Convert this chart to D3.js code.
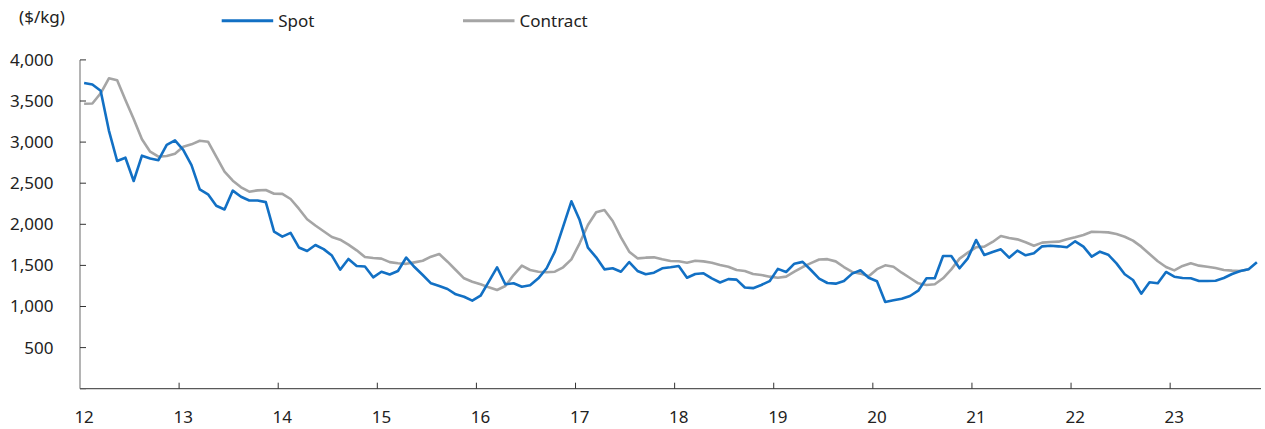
<!DOCTYPE html>
<html>
<head>
<meta charset="utf-8">
<script src="https://cdn.jsdelivr.net/npm/d3@7"></script>
<style>
  html, body { margin: 0; padding: 0; background: #fff; }
  svg { display: block; }
  text { font-family: "Noto Sans", "DejaVu Sans", sans-serif; fill: #222; }
</style>
</head>
<body>
<svg id="chart" width="1265" height="429"></svg>
<script>
// Monthly data, Jan 2012 .. Nov 2023
const startYear = 2012;
const yearLabels = ["12","13","14","15","16","17","18","19","20","21","22","23"];
const yTicks = [0, 500, 1000, 1500, 2000, 2500, 3000, 3500, 4000];
const seriesNames = ["Spot", "Contract"];

const spot = [
  3720,3700,3625,3140,2770,2810,2527,2835,2800,2780,2965,3020,
  2905,2720,2425,2365,2225,2180,2410,2335,2290,2290,2270,1910,
  1850,1895,1718,1675,1748,1698,1620,1448,1578,1493,1486,1355,
  1423,1390,1432,1596,1480,1383,1282,1249,1213,1148,1119,1071,
  1131,1302,1477,1270,1282,1241,1258,1343,1465,1667,1971,2280,
  2052,1716,1598,1452,1465,1423,1541,1432,1392,1411,1465,1477,
  1493,1350,1395,1404,1343,1292,1333,1327,1231,1223,1262,1308,
  1458,1420,1521,1543,1444,1340,1286,1278,1310,1400,1440,1349,
  1308,1055,1075,1095,1128,1192,1343,1343,1614,1614,1465,1586,
  1809,1626,1663,1696,1594,1679,1623,1647,1732,1740,1732,1720,
  1793,1728,1606,1667,1630,1525,1392,1322,1156,1294,1282,1420,
  1363,1347,1343,1310,1310,1314,1347,1395,1432,1452,1538
];

const contract = [
  3467,3470,3594,3776,3752,3512,3281,3034,2883,2822,2831,2859,
  2944,2973,3017,3005,2822,2640,2530,2450,2397,2413,2417,2372,
  2370,2308,2190,2062,1985,1916,1846,1813,1752,1683,1602,1590,
  1582,1540,1527,1519,1537,1557,1606,1639,1545,1444,1343,1302,
  1270,1233,1201,1249,1383,1497,1444,1423,1416,1423,1477,1574,
  1769,1991,2146,2174,2040,1842,1667,1586,1594,1598,1574,1553,
  1551,1533,1557,1549,1533,1505,1484,1444,1432,1395,1383,1363,
  1350,1363,1423,1480,1527,1572,1576,1549,1480,1420,1400,1367,
  1454,1501,1484,1411,1347,1282,1262,1270,1343,1452,1582,1655,
  1720,1728,1785,1858,1833,1817,1781,1740,1777,1785,1789,1817,
  1842,1870,1910,1906,1902,1882,1849,1801,1728,1639,1550,1481,
  1440,1493,1525,1497,1484,1468,1444,1436,1432,1452
];

const colors = { Spot: "#1270C4", Contract: "#A5A5A5" };
const fs = 17;

const svg = d3.select("#chart");
const nMonths = spot.length; // 143
const months = d3.range(nMonths);

const x = d3.scaleBand().domain(months).range([80, 1261]).padding(0);
const bw = x.bandwidth();
const cx = i => x(i) + bw / 2;
const y = d3.scaleLinear().domain([0, 4000]).range([388.7, 59.9]);

// Y axis line
svg.append("line")
  .attr("x1", 80).attr("x2", 80)
  .attr("y1", y(4000)).attr("y2", y(0))
  .attr("stroke", "#8c8c8c").attr("stroke-width", 1.3);

// Y ticks (inward)
svg.append("g").selectAll("line").data(yTicks).join("line")
  .attr("x1", 80).attr("x2", 86)
  .attr("y1", d => y(d)).attr("y2", d => y(d))
  .attr("stroke", "#333").attr("stroke-width", 1);

svg.append("g").selectAll("text").data(yTicks.filter(d => d > 0)).join("text")
  .attr("x", 53.5).attr("y", d => y(d))
  .attr("dy", "0.35em")
  .attr("text-anchor", "end")
  .attr("font-size", fs)
  .text(d => d3.format(",")(d));

// X axis line
svg.append("line")
  .attr("x1", 80).attr("x2", 1261)
  .attr("y1", y(0)).attr("y2", y(0))
  .attr("stroke", "#595959").attr("stroke-width", 1.3);

const januaries = months.filter(i => i % 12 === 0);
svg.append("g").selectAll("line").data(januaries.filter(i => i > 0)).join("line")
  .attr("x1", d => x(d)).attr("x2", d => x(d))
  .attr("y1", y(0)).attr("y2", y(0) - 6)
  .attr("stroke", "#333").attr("stroke-width", 1);

svg.append("g").selectAll("text").data(januaries).join("text")
  .attr("x", d => cx(d)).attr("y", 423)
  .attr("text-anchor", "middle")
  .attr("font-size", fs)
  .text(d => yearLabels[d / 12]);

// Unit label
svg.append("text")
  .attr("x", 42).attr("y", 23)
  .attr("text-anchor", "middle")
  .attr("font-size", fs)
  .text("($/kg)");

// Lines
const line = d3.line().x((d, i) => cx(i)).y(d => y(d));
svg.append("path").datum(contract)
  .attr("fill", "none").attr("stroke", colors.Contract)
  .attr("stroke-width", 2.6).attr("stroke-linejoin", "round")
  .attr("d", line);
svg.append("path").datum(spot)
  .attr("fill", "none").attr("stroke", colors.Spot)
  .attr("stroke-width", 2.6).attr("stroke-linejoin", "round")
  .attr("d", line);

// Legend
const legendX = [221.7, 463];
seriesNames.forEach((name, k) => {
  const lx = legendX[k];
  svg.append("line")
    .attr("x1", lx).attr("x2", lx + 51.5)
    .attr("y1", 20.7).attr("y2", 20.7)
    .attr("stroke", colors[name]).attr("stroke-width", 3);
  svg.append("text")
    .attr("x", lx + 56.5).attr("y", 26.5)
    .attr("font-size", fs)
    .text(name);
});
</script>
</body>
</html>
